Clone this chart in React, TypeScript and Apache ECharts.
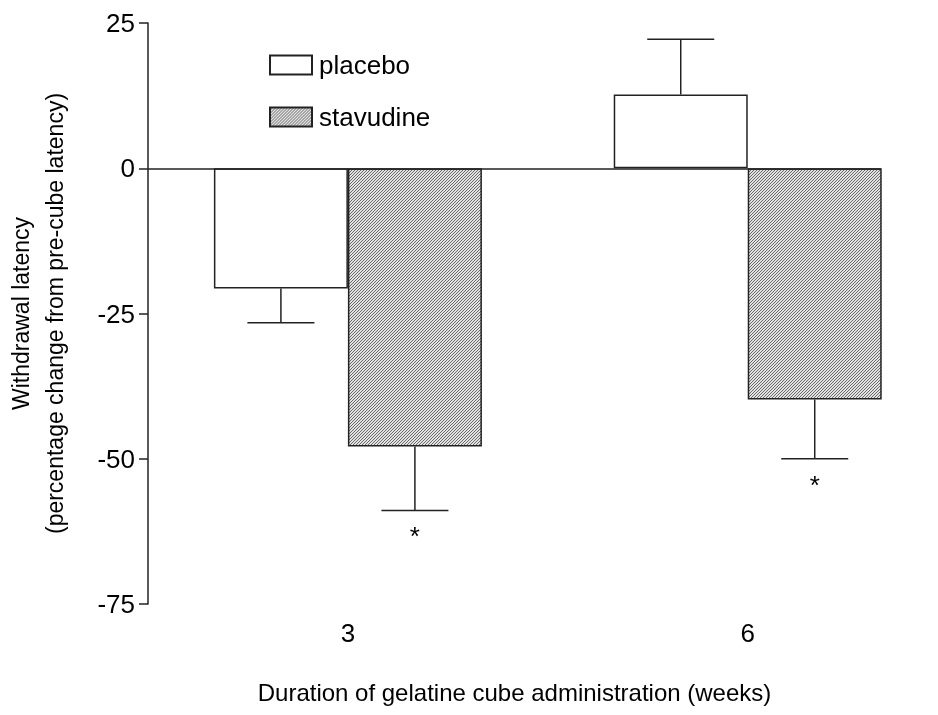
import React, { useEffect, useRef } from "react";
import * as echarts from "echarts";

const weeks = [3, 6];
const placeboMean = [-20.7, 12.7];
const placeboSem = [5.9, 9.5];
const stavudineMean = [-47.9, -39.8];
const stavudineSem = [11.0, 10.2];
const stavudineSignificant = [1, 1];
const yTicks = [-75, -50, -25, 0, 25];

const FONT = "'Liberation Sans', Arial, Helvetica, sans-serif";
const BAR_W = 134;
const LINE = "#222";

function makePattern(): HTMLCanvasElement {
  const c = document.createElement("canvas");
  c.width = 3;
  c.height = 3;
  const ctx = c.getContext("2d")!;
  ctx.fillStyle = "#e2e2e2";
  ctx.fillRect(0, 0, 3, 3);
  ctx.fillStyle = "#6a6a6a";
  for (let i = 0; i < 3; i++) ctx.fillRect(2 - i, i, 1, 1);
  return c;
}

export default function App() {
  const ref = useRef<HTMLDivElement>(null);
  useEffect(() => {
    if (!ref.current) return;
    const chart = echarts.init(ref.current, undefined, { renderer: "svg" });
    const pattern = { image: makePattern(), repeat: "repeat" } as any;

    const errorSeries = (name: string, mean: number[], sem: number[], sig: number[] | null, side: number) => ({
      type: "custom",
      name: name + "-err",
      silent: true,
      z: 5,
      data: weeks.map((w, i) => [w, mean[i], sem[i], sig ? sig[i] : 0]),
      encode: { x: 0, y: 1 },
      renderItem: (params: any, api: any) => {
        const x = api.value(0);
        const y = api.value(1);
        const e = api.value(2);
        const s = api.value(3);
        const dir = y >= 0 ? 1 : -1;
        const p0 = api.coord([x, y]);
        const p1 = api.coord([x, y + dir * e]);
        const cx = p0[0] + side * (BAR_W / 2);
        const half = BAR_W / 4;
        const children: any[] = [
          { type: "line", shape: { x1: cx, y1: p0[1], x2: cx, y2: p1[1] }, style: { stroke: LINE, lineWidth: 1.5 } },
          { type: "line", shape: { x1: cx - half, y1: p1[1], x2: cx + half, y2: p1[1] }, style: { stroke: LINE, lineWidth: 1.5 } },
        ];
        if (s) {
          children.push({
            type: "text",
            x: cx,
            y: p1[1] + 13,
            style: { text: "*", fill: "#000", font: `26px ${FONT}`, align: "center", verticalAlign: "top" },
          });
        }
        return { type: "group", children };
      },
    });

    chart.setOption({
      animation: false,
      textStyle: { fontFamily: FONT },
      grid: { left: 148, right: 57, top: 23, bottom: 111, outerBoundsMode: "none", containLabel: false },
      legend: {
        orient: "vertical",
        left: 269,
        top: 52,
        padding: 0,
        itemWidth: 42,
        itemHeight: 19,
        itemGap: 26,
        icon: "rect",
        data: ["placebo", "stavudine"],
        textStyle: { fontSize: 26, color: "#000", fontFamily: FONT, padding: [0, 0, 0, 2] },
      },
      xAxis: {
        type: "value",
        min: 1.5,
        max: 7,
        interval: 1.5,
        name: "Duration of gelatine cube administration (weeks)",
        nameLocation: "middle",
        nameGap: 76,
        nameTextStyle: { fontSize: 24, color: "#000", fontFamily: FONT },
        axisLine: { show: false },
        axisTick: { show: false },
        splitLine: { show: false },
        axisLabel: {
          fontSize: 26,
          color: "#000",
          margin: 16,
          formatter: (v: number) => (weeks.includes(v) ? String(v) : ""),
        },
      },
      yAxis: {
        type: "value",
        min: yTicks[0],
        max: yTicks[yTicks.length - 1],
        interval: 25,
        name: "Withdrawal latency\n(percentage change from pre-cube latency)",
        nameLocation: "middle",
        nameGap: 76,
        nameTextStyle: { fontSize: 23, lineHeight: 34, color: "#000", fontFamily: FONT },
        axisLine: { show: true, lineStyle: { color: LINE, width: 1.5 } },
        axisTick: { show: true, length: 9, lineStyle: { color: LINE, width: 1.5 } },
        splitLine: { show: false },
        axisLabel: { fontSize: 26, color: "#000", margin: 13 },
      },
      series: [
        {
          type: "bar",
          name: "placebo",
          barWidth: BAR_W,
          barGap: "0%",
          data: weeks.map((w, i) => [w, placeboMean[i]]),
          itemStyle: { color: "#fff", borderColor: LINE, borderWidth: 1.5 },
          markLine: {
            silent: true,
            symbol: "none",
            label: { show: false },
            lineStyle: { color: LINE, width: 1.5, type: "solid" },
            data: [{ yAxis: 0 }],
            z: 10,
          },
        },
        {
          type: "bar",
          name: "stavudine",
          barWidth: BAR_W,
          barGap: "0%",
          data: weeks.map((w, i) => [w, stavudineMean[i]]),
          itemStyle: { color: pattern, borderColor: LINE, borderWidth: 1.5 },
        },
        errorSeries("placebo", placeboMean, placeboSem, null, -1),
        errorSeries("stavudine", stavudineMean, stavudineSem, stavudineSignificant, 1),
      ],
    });
    return () => chart.dispose();
  }, []);
  return <div ref={ref} style={{ position: "fixed", left: 0, top: 0, width: 938, height: 715 }} />;
}
